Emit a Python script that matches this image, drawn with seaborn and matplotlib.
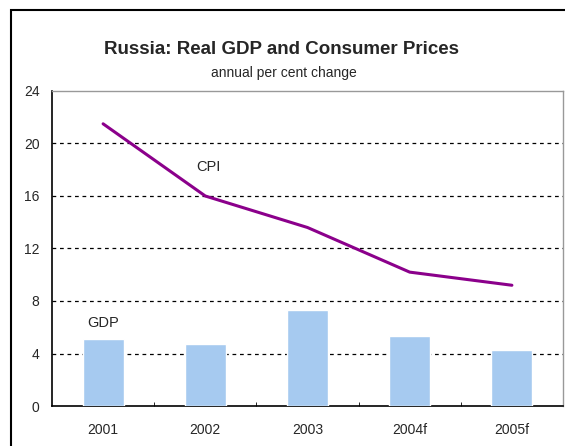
import numpy as np
import pandas as pd
import seaborn as sns
import matplotlib.pyplot as plt
from matplotlib.patches import Rectangle

years = ['2001', '2002', '2003', '2004f', '2005f']
gdp = [5.1, 4.7, 7.3, 5.3, 4.3]
cpi = [21.5, 16.0, 13.6, 10.2, 9.2]

sns.set_style('white')
plt.rcParams['font.family'] = ['Liberation Sans', 'DejaVu Sans']

fig = plt.figure(figsize=(5.65, 4.46), dpi=100)
ax = fig.add_axes([52 / 565, 1 - 406 / 446, 511 / 565, 315 / 446])

df = pd.DataFrame({'year': years, 'gdp': gdp, 'cpi': cpi, 'pos': np.arange(len(years))})

sns.barplot(data=df, x='year', y='gdp', color='#a6caf0', saturation=1, width=0.4, ax=ax, zorder=3)
sns.lineplot(data=df, x='pos', y='cpi', color='#8b008b', linewidth=2.2, ax=ax, zorder=4)

ax.set_xlim(-0.5, 4.5)
ax.set_ylim(0, 24)
ax.set_yticks(range(0, 25, 4))
ax.set_xlabel('')
ax.set_ylabel('')
for v in range(4, 24, 4):
    ax.axhline(v, color='black', linestyle=(0, (3, 3)), linewidth=0.9, zorder=1)

ax.set_xticks(np.arange(0.5, 4.5, 1), minor=True)
ax.tick_params(axis='x', which='major', length=0, pad=12, labelsize=10)
ax.tick_params(axis='x', which='minor', length=3, direction='in', color='black', bottom=True)
ax.tick_params(axis='y', length=0, pad=9, labelsize=10)

for side in ['left', 'bottom']:
    ax.spines[side].set_color('black')
    ax.spines[side].set_linewidth(1.2)
for side in ['top', 'right']:
    ax.spines[side].set_visible(True)
    ax.spines[side].set_color('#999999')
    ax.spines[side].set_linewidth(1)

ax.text(1.03, 18.2, 'CPI', ha='center', va='center', fontsize=10.5)
ax.text(0.0, 6.3, 'GDP', ha='center', va='center', fontsize=10.5)

fig.text(281 / 565, 1 - 49 / 446, 'Russia: Real GDP and Consumer Prices',
         ha='center', va='center', fontsize=13.5, fontweight='bold')
fig.text(284 / 565, 1 - 73 / 446, 'annual per cent change', ha='center', va='center', fontsize=10)

fig.patches.append(Rectangle((11 / 565, -0.1), 1.2, 1 - 10 / 446 + 0.1, transform=fig.transFigure,
                             fill=False, edgecolor='black', linewidth=1.5, clip_on=False))

fig.savefig('out.png', dpi=100)
